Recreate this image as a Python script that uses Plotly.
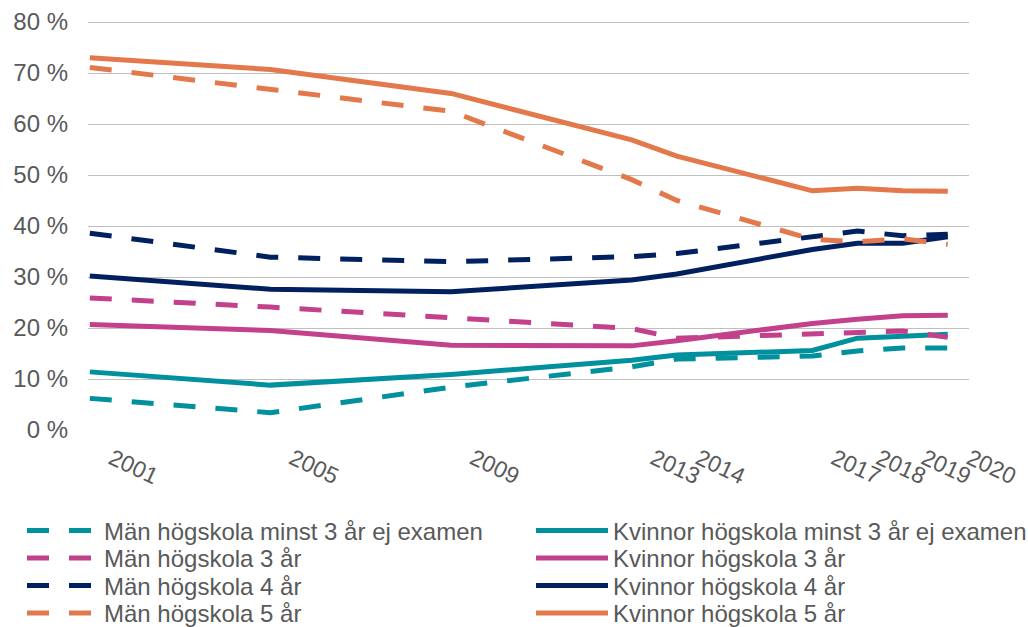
import plotly.graph_objects as go

years = [2001, 2005, 2009, 2013, 2014, 2017, 2018, 2019, 2020]
year_labels = [str(y) for y in years]

man_ej = [6.2, 3.4, 8.4, 12.4, 13.9, 14.5, 15.5, 16.1, 16.1]
kv_ej = [11.4, 8.8, 10.9, 13.7, 14.7, 15.6, 18.0, 18.5, 18.8]
man_3 = [25.9, 24.1, 22.0, 19.9, 18.0, 18.8, 18.9, 19.4, 18.2]
kv_3 = [20.7, 19.5, 16.6, 16.5, 17.5, 20.9, 21.7, 22.4, 22.5]
man_4 = [38.6, 33.9, 33.0, 34.0, 34.6, 37.9, 39.0, 38.1, 38.4]
kv_4 = [30.2, 27.6, 27.1, 29.4, 30.6, 35.4, 36.6, 36.6, 37.9]
man_5 = [71.1, 66.7, 62.5, 49.1, 45.0, 37.4, 36.9, 37.5, 36.4]
kv_5 = [73.0, 70.7, 66.0, 56.9, 53.7, 46.9, 47.4, 46.9, 46.8]

series = [
    ("Män högskola minst 3 år ej examen", man_ej, "#00909E", "22px,20px"),
    ("Kvinnor högskola minst 3 år ej examen", kv_ej, "#00909E", "solid"),
    ("Män högskola 3 år", man_3, "#C2408C", "22px,20px"),
    ("Kvinnor högskola 3 år", kv_3, "#C2408C", "solid"),
    ("Män högskola 4 år", man_4, "#002060", "22px,20px"),
    ("Kvinnor högskola 4 år", kv_4, "#002060", "solid"),
    ("Män högskola 5 år", man_5, "#E3784B", "22px,20px"),
    ("Kvinnor högskola 5 år", kv_5, "#E3784B", "solid"),
]

W, H = 1028, 627
font_color = "#595959"
row_centers = [531, 558.5, 586, 613.5]
col_x = [22, 531]

fig = go.Figure()
legend_layouts = {}
for i, (name, vals, color, dash) in enumerate(series):
    key = "legend" if i == 0 else f"legend{i + 1}"
    fig.add_trace(go.Scatter(
        x=years, y=vals, name=name, mode="lines",
        line=dict(color=color, width=5, dash=dash),
        legend=key,
    ))
    row, col = i // 2, i % 2
    legend_layouts[key] = dict(
        xref="container", yref="container",
        x=col_x[col] / W, y=(H - row_centers[row]) / H,
        xanchor="left", yanchor="middle",
        itemwidth=72, font=dict(size=24, color=font_color),
        bgcolor="rgba(0,0,0,0)", borderwidth=0,
    )

fig.update_layout(
    width=W, height=H,
    margin=dict(l=88, r=59, t=20, b=197, autoexpand=False),
    plot_bgcolor="white", paper_bgcolor="white",
    font=dict(family="Liberation Sans, Arial, sans-serif", size=24, color=font_color),
    xaxis=dict(
        range=[2000.96, 2020.47], tickmode="array", tickvals=years, ticktext=year_labels,
        tickangle=25, showgrid=False, zeroline=False, showline=False, ticks="",
        tickfont=dict(size=23, color=font_color), ticklabelshift=22, ticklabelstandoff=10,
    ),
    yaxis=dict(
        range=[0, 80.4], tickmode="array", tickvals=[0, 10, 20, 30, 40, 50, 60, 70, 80],
        ticktext=["0 %", "10 %", "20 %", "30 %", "40 %", "50 %", "60 %", "70 %", "80 %"],
        showgrid=True, gridcolor="#BFBFBF",
        gridwidth=1.4, zeroline=False, showline=False, ticks="",
        tickfont=dict(size=24, color=font_color), ticklabelstandoff=19,
    ),
    showlegend=True,
    hovermode=False,
    **legend_layouts,
)

fig.write_html(
    "out.html",
    config={"displayModeBar": False},
    post_script="document.body.style.margin='0';document.body.style.overflow='hidden';",
)
